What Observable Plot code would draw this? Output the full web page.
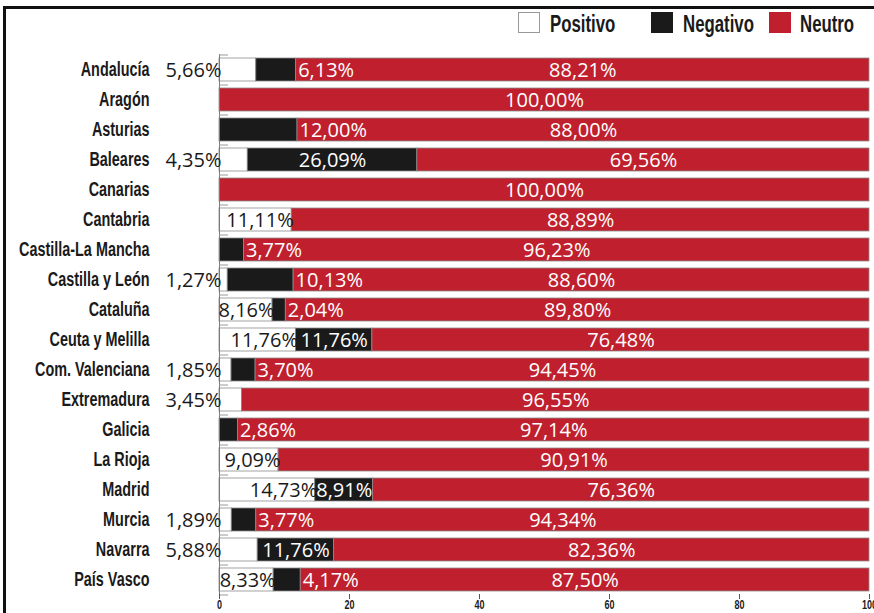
<!DOCTYPE html>
<html>
<head>
<meta charset="utf-8">
<script src="https://cdn.jsdelivr.net/npm/d3@7"></script>
<script src="https://cdn.jsdelivr.net/npm/@observablehq/plot@0.6"></script>
<style>
  html, body { margin: 0; padding: 0; background: #fff; }
  #page { position: relative; width: 874px; height: 613px; overflow: hidden; background: #fff; }
  #frame { position: absolute; left: 3px; top: 6px; width: 1000px; height: 1000px;
           border-left: 3px solid #111; border-top: 3px solid #111; box-sizing: border-box; }
  #chart { position: absolute; left: 0; top: 0; }
  .sw { position: absolute; width: 22px; height: 21px; box-sizing: border-box; }
  .lt { position: absolute; top: 12.5px; font-family: "Liberation Sans", Arial, sans-serif;
        font-weight: bold; font-size: 23px; line-height: 1; color: #1a1a1a; white-space: nowrap;
        transform-origin: 0 0; transform: scaleX(0.73); }
</style>
</head>
<body>
<div id="page">
  <div id="frame"></div>
  <div id="chart"></div>
  <div id="legend"></div>
</div>
<script>
const regiones = ["Andalucía","Aragón","Asturias","Baleares","Canarias","Cantabria","Castilla-La Mancha",
  "Castilla y León","Cataluña","Ceuta y Melilla","Com. Valenciana","Extremadura","Galicia","La Rioja",
  "Madrid","Murcia","Navarra","País Vasco"];
const positivo = [5.66, 0, 0, 4.35, 0, 11.11, 0, 1.27, 8.16, 11.76, 1.85, 3.45, 0, 9.09, 14.73, 1.89, 5.88, 8.33];
const negativo = [6.13, 0, 12.00, 26.09, 0, 0, 3.77, 10.13, 2.04, 11.76, 3.70, 0, 2.86, 0, 8.91, 3.77, 11.76, 4.17];
const neutro   = [88.21, 100, 88.00, 69.56, 100, 88.89, 96.23, 88.60, 89.80, 76.48, 94.45, 96.55, 97.14, 90.91, 76.36, 94.34, 82.36, 87.50];
const series = ["Positivo", "Negativo", "Neutro"];
const colores = ["#ffffff", "#1b1a1a", "#c0202e"];
const xTicks = [0, 20, 40, 60, 80, 100];

const rows = regiones.map((r, i) => ({region: r, pos: positivo[i], neg: negativo[i], neu: neutro[i]}));
const long = rows.flatMap(d => [
  {region: d.region, serie: "Positivo", value: d.pos},
  {region: d.region, serie: "Negativo", value: d.neg},
  {region: d.region, serie: "Neutro", value: d.neu}
]).filter(d => d.value > 0);

const fmt = v => d3.format(".2f")(v).replace(".", ",") + "%";
const valFont = {fontFamily: "'Open Sans', sans-serif", fontSize: 20};
const condFont = "'Liberation Sans', Arial, sans-serif";

const negInside = d => d.neg >= 8 && d.pos >= 4;

const chart = Plot.plot({
  width: 874,
  height: 613,
  marginLeft: 219,
  marginRight: 5,
  marginTop: 54,
  marginBottom: 19,
  style: {background: "transparent", overflow: "visible"},
  x: {domain: [0, 100], ticks: xTicks, label: null, axis: null},
  y: {domain: regiones, paddingInner: 0.25, paddingOuter: 0.125, label: null, axis: null},
  color: {domain: series, range: colores},
  marks: [
    Plot.barX(long, Plot.stackX({x: "value", y: "region", fill: "serie", order: series,
      stroke: "#8c8c8c", strokeWidth: 0.8})),
    Plot.ruleX([0], {stroke: "#7a7a7a", strokeWidth: 1}),
    Plot.ruleY(regiones, {y: d => d, x1: 0, x2: 1.4, dy: -15, stroke: "#9a9a9a"}),
    Plot.ruleY([regiones[regiones.length - 1]], {y: d => d, x1: 0, x2: 1.4, dy: 15, stroke: "#9a9a9a"}),
    Plot.axisX({ticks: xTicks, tickSize: 5, tickPadding: 1, tickFormat: d => d, stroke: "#555",
      fontFamily: condFont, fontWeight: "bold", fontSize: 12, fill: "#1a1a1a", label: null}),
    Plot.axisY({tickSize: 0, tickPadding: 70, label: null,
      fontFamily: condFont, fontWeight: "bold", fontSize: 20, fill: "#1a1a1a"}),
    // Positivo labels
    Plot.text(rows.filter(d => d.pos > 0), {x: d => d.pos >= 8 ? d.pos : 0, y: "region", text: d => fmt(d.pos),
      textAnchor: "end", dx: 2, dy: 1, fill: "#1a1a1a", ...valFont}),
    // Negativo labels inside the black segment
    Plot.text(rows.filter(d => d.neg > 0 && negInside(d)), {x: d => d.pos + d.neg / 2, y: "region",
      text: d => fmt(d.neg), textAnchor: "middle", dy: 1, fill: "#ffffff", ...valFont}),
    // Negativo labels after the black segment
    Plot.text(rows.filter(d => d.neg > 0 && !negInside(d)), {x: d => d.pos + d.neg, y: "region",
      text: d => fmt(d.neg), textAnchor: "start", dx: 2, dy: 1, fill: "#ffffff", ...valFont}),
    // Neutro labels
    Plot.text(rows, {x: d => d.pos + d.neg + d.neu / 2, y: "region", text: d => fmt(d.neu),
      textAnchor: "middle", dy: 1, fill: "#ffffff", ...valFont})
  ]
});
document.getElementById("chart").appendChild(chart);

// Condense the axis label glyphs (the reference uses a condensed typeface)
function condense(selector, k) {
  chart.querySelectorAll(selector).forEach(t => {
    const len = t.getComputedTextLength();
    t.setAttribute("textLength", (len * k).toFixed(2));
    t.setAttribute("lengthAdjust", "spacingAndGlyphs");
  });
}
condense('g[aria-label="y-axis tick label"] text', 0.72);
condense('g[aria-label="x-axis tick label"] text', 0.75);

// Legend
const legend = document.getElementById("legend");
const swLeft = [518, 651, 769];
const txLeft = [550, 683, 800];
series.forEach((s, i) => {
  const sw = document.createElement("div");
  sw.className = "sw";
  sw.style.left = swLeft[i] + "px";
  sw.style.top = "12px";
  sw.style.background = colores[i];
  sw.style.border = i === 0 ? "1px solid #999" : "none";
  legend.appendChild(sw);
  const t = document.createElement("div");
  t.className = "lt";
  t.style.left = txLeft[i] + "px";
  t.textContent = s;
  legend.appendChild(t);
});
</script>
</body>
</html>
